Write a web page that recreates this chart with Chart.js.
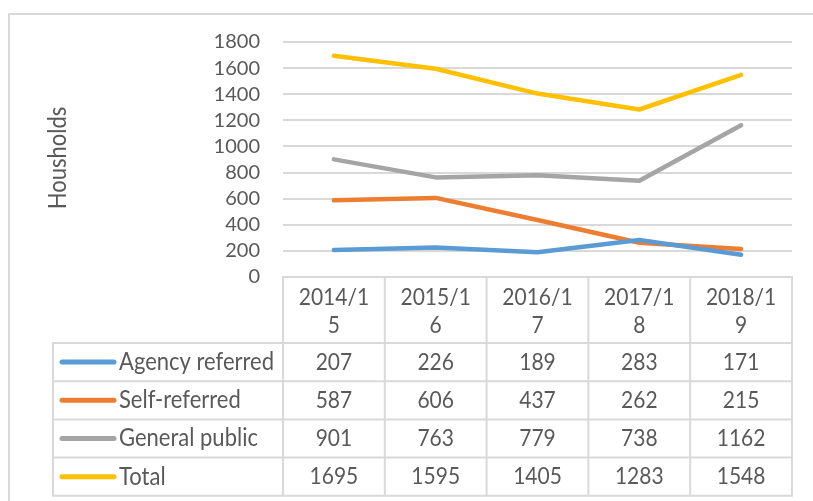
<!DOCTYPE html>
<html>
<head>
<meta charset="utf-8">
<script src="https://cdn.jsdelivr.net/npm/chart.js@4.4.0/dist/chart.umd.min.js"></script>
<style>
html,body{margin:0;padding:0;background:#fff;}
#wrap{position:relative;width:813px;height:501px;}
</style>
</head>
<body>
<div id="wrap"><canvas id="c" width="813" height="501"></canvas></div>
<script>
const categories = ["2014/15", "2015/16", "2016/17", "2017/18", "2018/19"];
const headerLines = [["2014/1","5"],["2015/1","6"],["2016/1","7"],["2017/1","8"],["2018/1","9"]];
const agencyReferred = [207, 226, 189, 283, 171];
const selfReferred = [587, 606, 437, 262, 215];
const generalPublic = [901, 763, 779, 738, 1162];
const total = [1695, 1595, 1405, 1283, 1548];
const seriesNames = ["Agency referred", "Self-referred", "General public", "Total"];
const seriesColors = ["#5B9BD5", "#ED7D31", "#A5A5A5", "#FFC000"];
const yTitle = "Housholds";

const FONT = "Lato, 'Open Sans', sans-serif";
const TXT = "#595959";
const LINE = "#D9D9D9";

const seriesData = [agencyReferred, selfReferred, generalPublic, total];

function drawText(ctx, text, x, y, align, size) {
  ctx.save();
  ctx.translate(x, y);
  ctx.scale(1, 1.12);
  ctx.font = size + "px " + FONT;
  ctx.fillStyle = TXT;
  ctx.textAlign = align;
  ctx.textBaseline = "middle";
  ctx.fillText(text, 0, 0);
  ctx.restore();
}

const tablePlugin = {
  id: "dataTable",
  beforeDraw(chart) {
    const ctx = chart.ctx;
    ctx.save();
    ctx.fillStyle = "#fff";
    ctx.fillRect(0, 0, chart.width, chart.height);
    ctx.strokeStyle = LINE;
    ctx.lineWidth = 2;
    ctx.strokeRect(9, 14, 820, 500);
    ctx.restore();
  },
  afterDraw(chart) {
    const ctx = chart.ctx;
    const xs = chart.scales.x;
    const area = chart.chartArea;
    const n = categories.length;
    const half = (area.right - area.left) / (2 * n);
    const top = area.bottom;
    const headerBottom = 343;
    const rowH = 38.2;
    const tableLeft = 53;
    ctx.save();
    ctx.strokeStyle = LINE;
    ctx.lineWidth = 2;
    ctx.beginPath();
    for (let i = 0; i < n; i++) {
      const cx = xs.getPixelForValue(i);
      ctx.rect(cx - half, top, half * 2, headerBottom - top);
    }
    for (let r = 0; r < seriesData.length; r++) {
      const y0 = headerBottom + r * rowH;
      ctx.rect(tableLeft, y0, area.left - tableLeft, rowH);
      for (let i = 0; i < n; i++) {
        const cx = xs.getPixelForValue(i);
        ctx.rect(cx - half, y0, half * 2, rowH);
      }
    }
    ctx.stroke();
    for (let i = 0; i < n; i++) {
      const cx = xs.getPixelForValue(i);
      drawText(ctx, headerLines[i][0], cx, 297, "center", 21);
      drawText(ctx, headerLines[i][1], cx, 325, "center", 21);
    }
    for (let r = 0; r < seriesData.length; r++) {
      const cy = headerBottom + r * rowH + rowH / 2;
      ctx.strokeStyle = seriesColors[r];
      ctx.lineWidth = 5;
      ctx.lineCap = "round";
      ctx.beginPath();
      ctx.moveTo(62, cy);
      ctx.lineTo(114, cy);
      ctx.stroke();
      drawText(ctx, seriesNames[r], 119, cy, "left", 22);
      for (let i = 0; i < n; i++) {
        const cx = xs.getPixelForValue(i);
        drawText(ctx, String(seriesData[r][i]), cx, cy, "center", 21);
      }
    }
    ctx.save();
    ctx.translate(58, 158);
    ctx.rotate(-Math.PI / 2);
    ctx.scale(1.0, 1.12);
    ctx.font = "22px " + FONT;
    ctx.fillStyle = TXT;
    ctx.textAlign = "center";
    ctx.textBaseline = "middle";
    ctx.fillText(yTitle, 0, 0);
    ctx.restore();
    ctx.restore();
  }
};

new Chart(document.getElementById("c"), {
  type: "line",
  data: {
    labels: categories,
    datasets: seriesData.map((d, i) => ({
      label: seriesNames[i],
      data: d,
      borderColor: seriesColors[i],
      backgroundColor: seriesColors[i],
      borderWidth: 4.5,
      pointRadius: 0,
      borderCapStyle: "round",
      borderJoinStyle: "round",
      tension: 0
    }))
  },
  options: {
    responsive: false,
    animation: false,
    layout: { padding: { top: 42, bottom: 224, right: 21, left: 0 } },
    plugins: { legend: { display: false }, tooltip: { enabled: false } },
    scales: {
      x: { display: false, offset: true },
      y: {
        min: 0, max: 1800,
        afterFit(s) { s.width = 283; },
        border: { display: false },
        grid: { color: LINE, lineWidth: 2, drawTicks: false },
        ticks: {
          stepSize: 200, padding: 23, color: TXT, autoSkip: false,
          font: { family: FONT, size: 20 },
          callback: (v) => String(v)
        }
      }
    }
  },
  plugins: [tablePlugin]
});
</script>
</body>
</html>
